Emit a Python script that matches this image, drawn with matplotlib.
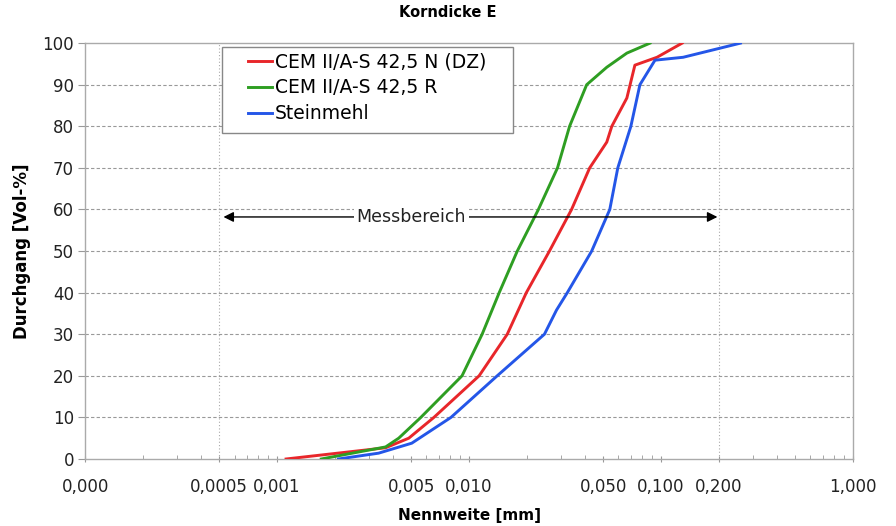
import matplotlib
matplotlib.use("Agg")
from matplotlib import pyplot as plt
from matplotlib.patches import Rectangle
from matplotlib.ticker import FixedLocator, FixedFormatter, LogLocator, NullFormatter

plt.rcParams["font.family"] = ["DejaVu Sans"]

# Korndurchgang [Vol-%] ueber Nennweite [mm]
red_x = [0.001114, 0.003676, 0.004852, 0.006559, 0.011282, 0.015812, 0.019880, 0.026228,
         0.034198, 0.042501, 0.052168, 0.055409, 0.066374, 0.073089, 0.095292, 0.128825]
red_y = [0, 2.7, 5, 10, 20, 30, 40, 50, 60, 70, 76.2, 80, 86.8, 94.7, 96.6, 100]

green_x = [0.001699, 0.003676, 0.004300, 0.005607, 0.009192, 0.011698, 0.014359, 0.017836,
           0.022974, 0.028887, 0.033389, 0.040995, 0.052168, 0.066374, 0.087590]
green_y = [0, 2.9, 5, 10, 20, 30, 40, 50, 60, 70, 80, 90, 94.2, 97.6, 100]

blue_x = [0.002087, 0.003379, 0.005030, 0.008050, 0.014015, 0.024699, 0.028540, 0.032500,
          0.043531, 0.054086, 0.059542, 0.069644, 0.077628, 0.093019, 0.130406, 0.259279]
blue_y = [0, 1.4, 3.8, 10, 20, 30, 35.8, 40, 50, 60, 70, 80, 90, 95.9, 96.6, 100]

labels = ["CEM II/A-S 42,5 N (DZ)", "CEM II/A-S 42,5 R", "Steinmehl"]

xticks = [0.0001, 0.0005, 0.001, 0.005, 0.01, 0.05, 0.1, 0.2, 1.0]
xticklabels = ["0,000", "0,0005", "0,001", "0,005", "0,010", "0,050", "0,100", "0,200", "1,000"]
yticks = [0, 10, 20, 30, 40, 50, 60, 70, 80, 90, 100]

range_lo, range_hi, range_y = 0.0005, 0.2, 58.2

fig = plt.figure(figsize=(8.96, 5.26), dpi=100)
ax = fig.add_axes([0.095, 0.1274, 0.857, 0.7906])

ax.plot(red_x, red_y, color="#e8262a", lw=2.1, label=labels[0], zorder=3)
ax.plot(green_x, green_y, color="#2e9e22", lw=2.1, label=labels[1], zorder=3)
ax.plot(blue_x, blue_y, color="#2456e8", lw=2.1, label=labels[2], zorder=3)

ax.set_xscale("log")
ax.set_xlim(0.0001, 1.0)
ax.set_ylim(0, 100)

ax.xaxis.set_major_locator(FixedLocator(xticks))
ax.xaxis.set_major_formatter(FixedFormatter(xticklabels))
ax.xaxis.set_minor_locator(LogLocator(base=10, subs=range(2, 10)))
ax.xaxis.set_minor_formatter(NullFormatter())
ax.set_yticks(yticks)

ax.tick_params(axis="both", which="major", labelsize=12, colors="#999999",
               labelcolor="#222222", length=5, width=0.8)
ax.tick_params(axis="x", which="major", direction="inout", pad=11)
ax.tick_params(axis="x", which="minor", direction="in", length=3, color="#999999")
ax.tick_params(axis="y", which="major", direction="out", pad=3)

for s in ax.spines.values():
    s.set_color("#aaaaaa")
    s.set_linewidth(1.0)

# gridlines
for y in yticks[1:-1]:
    ax.axhline(y, color="#999999", lw=0.8, ls=(0, (3, 2)), zorder=1)
for x in (range_lo, range_hi):
    ax.axvline(x, color="#aaaaaa", lw=0.8, ls=(0, (1, 2)), zorder=1)

# Messbereich
ax.annotate("", xy=(range_lo, range_y), xytext=(range_hi, range_y),
            arrowprops=dict(arrowstyle="<|-|>", color="black", lw=1.0,
                            mutation_scale=15, shrinkA=1, shrinkB=3), zorder=4)
ax.text(0.005, range_y, "Messbereich", ha="center", va="center", fontsize=12.5,
        color="#222222", bbox=dict(facecolor="white", edgecolor="none", pad=2), zorder=5)

# legend: frame drawn separately so the padding on the left matches
ax.add_patch(Rectangle((0.178, 0.784), 0.379, 0.206, transform=ax.transAxes,
                       facecolor="white", edgecolor="#888888", lw=1.0, zorder=6))
leg = ax.legend(loc="upper left", bbox_to_anchor=(0.212, 0.977), fontsize=13.5,
                frameon=False, handlelength=1.3, handletextpad=0.15,
                borderpad=0, labelspacing=0.36, borderaxespad=0)
leg.set_zorder(7)

fig.text(0.5, 0.977, "Korndicke E", ha="center", va="center", fontsize=10.5, fontweight="bold")
ax.set_xlabel("Nennweite [mm]", fontsize=11, fontweight="bold", labelpad=9)
ax.set_ylabel("Durchgang [Vol-%]", fontsize=12, fontweight="bold", labelpad=8)

fig.savefig("out.png", dpi=100)
